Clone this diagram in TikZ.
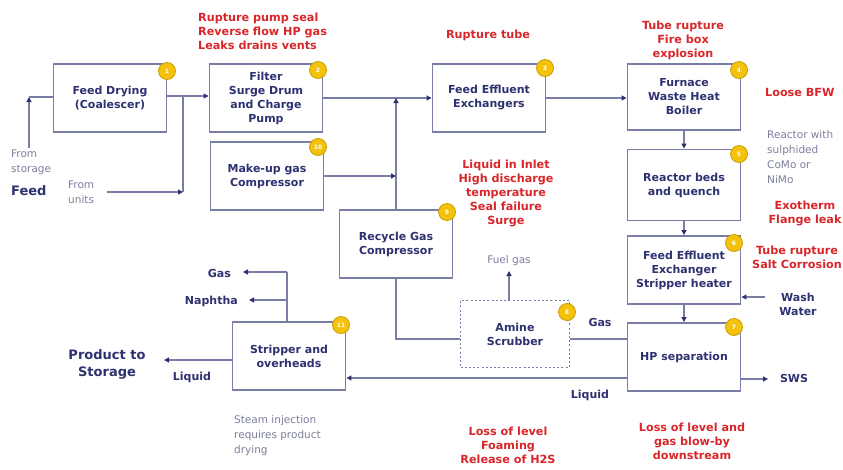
\documentclass[tikz,border=0pt]{standalone}
\usepackage{fontspec}
\setmainfont{DejaVu Sans}
\usetikzlibrary{arrows.meta,positioning}
\definecolor{navyCol}{HTML}{2E3170}
\definecolor{lineCol}{HTML}{7A7EA6}
\definecolor{riskCol}{HTML}{D8262A}
\definecolor{noteCol}{HTML}{7C7F9C}
\definecolor{dotFill}{HTML}{F4C20D}
\definecolor{dotEdge}{HTML}{C9A000}
\tikzset{
	unit/.style={draw=lineCol, line width=1.9pt, minimum width=113pt, minimum height=68pt,
		inner sep=1pt, align=center, text=navyCol, font=\fontsize{11}{14}\selectfont\bfseries},
	scrub/.style={unit, line width=1.6pt, dash pattern=on 2pt off 2.2pt, minimum width=109pt, minimum height=67pt},
	flow/.style={draw=lineCol, line width=1.8pt},
	numdot/.style={circle, fill=dotFill, draw=dotEdge, line width=0.8pt, minimum size=17pt,
		inner sep=0, text=white, font=\fontsize{6}{6}\selectfont\bfseries},
	risk/.style={inner sep=0, align=center, text=riskCol, font=\fontsize{11.2}{14}\selectfont\bfseries},
	note/.style={inner sep=0, align=left, text=noteCol, font=\fontsize{10.5}{15}\selectfont},
	tag/.style={inner sep=0, align=center, text=navyCol, font=\fontsize{11}{14}\selectfont\bfseries},
	big tag/.style={tag, font=\fontsize{13}{17}\selectfont\bfseries}
}

\begin{document}
\begin{tikzpicture}[x=1pt,y=-1pt,>={Triangle[length=5pt,width=5pt,color=navyCol]}]
	\useasboundingbox (0,0) rectangle (843,469);
	\fill[white] (0,0) rectangle (843,469);
	
	% process units
	\node[unit] (feeddry) at (110,98) {Feed Drying\\(Coalescer)};
	\node[unit] (filter) at (266,98) {Filter\\Surge Drum\\and Charge\\Pump};
	\node[unit] (makeup) at (267,176) {Make-up gas\\Compressor};
	\node[unit] (fee) at (489,98) {Feed Effluent\\Exchangers};
	\node[unit, minimum height=66pt] (furnace) at (684,97) {Furnace\\Waste Heat\\Boiler};
	\node[unit, minimum height=71pt] (reactor) at (684,185) {Reactor beds\\and quench};
	\node[unit] (feex) at (684,270) {Feed Effluent\\Exchanger\\Stripper heater};
	\node[unit] (hpsep) at (684,357) {HP separation};
	\node[unit] (recycle) at (396,244) {Recycle Gas\\Compressor};
	\node[scrub] (amine) at (515,334) {Amine\\Scrubber};
	\node[unit] (stripper) at (289,356) {Stripper and\\overheads};
	
	\foreach \n/\x/\y in {1/167/71, 2/318/70, 3/545/68, 4/739/70, 5/739/154, 6/734/243,
		7/734/327, 8/567/312, 9/447/212, 10/318/147, 11/341/325}
		\node[numdot] (dot\n) at (\x,\y) {\n};
	
	% free ends of the flows
	\coordinate (fromsto) at (29,148);
	\coordinate (feedjn) at (29,97);
	\coordinate (fromun) at (107,192);
	\coordinate (unjn) at (183,192);
	\coordinate (dryjn) at (183,96);
	\coordinate (rgcjn) at (396,98);
	\coordinate (washin) at (765,297);
	\coordinate (swsout) at (768,379);
	\coordinate (gasjn) at (0,339);
	\coordinate (liqjn) at (0,378);
	\coordinate (fuelout) at (509,271);
	\coordinate (stripjn) at (287,272);
	\coordinate (gasout) at (243,272);
	\coordinate (naphout) at (249,300);
	\coordinate (prodout) at (164,360);
	
	% flows
	\draw[flow,->] (fromsto) -- (feedjn);
	\draw[flow] (feedjn) -- (feeddry.west |- feedjn);
	\draw[flow,->] (fromun) -- (unjn);
	\draw[flow] (unjn) -- (dryjn);
	\draw[flow,->] (feeddry.east |- dryjn) -- (filter.west |- dryjn);
	\draw[flow,->] (filter.east) -- (fee.west);
	\draw[flow,->] (recycle.north) -- (rgcjn);
	\draw[flow,->] (makeup.east) -- (makeup.east -| rgcjn);
	\draw[flow,->] (fee.east) -- (furnace.west |- fee.east);
	\draw[flow,->] (furnace) -- (reactor);
	\draw[flow,->] (reactor) -- (feex);
	\draw[flow,->] (feex) -- (hpsep);
	\draw[flow,->] (washin) -- (washin -| feex.east);
	\draw[flow,->] (swsout -| hpsep.east) -- (swsout);
	\draw[flow] (hpsep.west |- gasjn) -- (amine.east |- gasjn);
	\draw[flow] (recycle.south) |- (amine.west |- gasjn);
	\draw[flow,->] (amine.north -| fuelout) -- (fuelout);
	\draw[flow,->] (hpsep.west |- liqjn) -- (stripper.east |- liqjn);
	\draw[flow] (stripper.north -| stripjn) -- (stripjn);
	\draw[flow,->] (stripjn) -- (gasout);
	\draw[flow,->] (stripjn |- naphout) -- (naphout);
	\draw[flow,->] (stripper.west |- prodout) -- (prodout);
	
	% stream labels
	\node[note, anchor=west] (storage) at (11,162) {From\\storage};
	\node[big tag, anchor=west] (feed) at (11,191) {Feed};
	\node[note, anchor=west] (units) at (68,192) {From\\units};
	\node[big tag] (product) at (107,364) {Product to\\Storage};
	\node[tag] (liqprod) at (192,377) {Liquid};
	\node[tag, anchor=east] (gasstrip) at (231,273) {Gas};
	\node[tag, anchor=east] (naphtha) at (238,301) {Naphtha};
	\node[note] (fuelgas) at (509,261) {Fuel gas};
	\node[tag] (gashp) at (600,322) {Gas};
	\node[tag] (liqhp) at (590,395) {Liquid};
	\node[tag] (wash) at (798,304) {Wash\\Water};
	\node[tag] (sws) at (794,378) {SWS};
	\node[note, anchor=west] (steam) at (234,436) {Steam injection\\requires product\\drying};
	\node[note, anchor=west] (catalyst) at (767,157) {Reactor with\\sulphided\\CoMo or\\NiMo};
	
	% hazards
	\node[risk, anchor=west, align=left] (hz2) at (198,31) {Rupture pump seal\\Reverse flow HP gas\\Leaks drains vents};
	\node[risk] (hz3) at (488,35) {Rupture tube};
	\node[risk] (hz4) at (683,40) {Tube rupture\\Fire box\\explosion};
	\node[risk, anchor=west] (hzbfw) at (765,92) {Loose BFW};
	\node[risk] (hz5) at (805,213) {Exotherm\\Flange leak};
	\node[risk] (hz6) at (797,257) {Tube rupture\\Salt Corrosion};
	\node[risk] (hz9) at (506,193) {Liquid in Inlet\\High discharge\\temperature\\Seal failure\\Surge};
	\node[risk] (hz8) at (508,445) {Loss of level\\Foaming\\Release of H2S};
	\node[risk] (hz7) at (692,441) {Loss of level and\\gas blow-by\\downstream};
\end{tikzpicture}
\end{document}
